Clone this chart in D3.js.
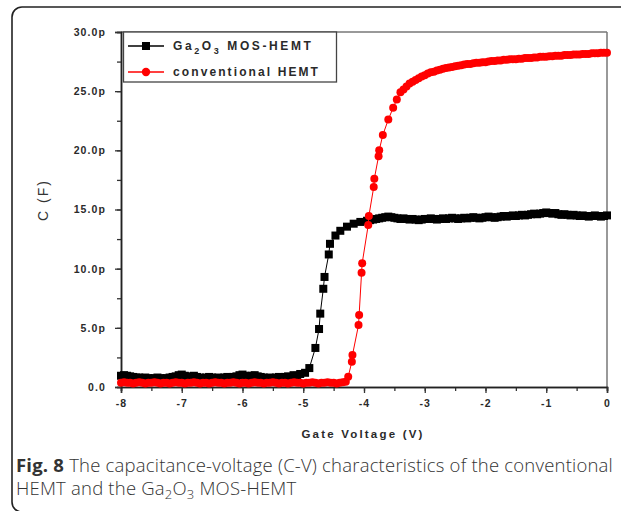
<!DOCTYPE html>
<html><head><meta charset="utf-8">
<script src="https://cdn.jsdelivr.net/npm/d3@7"></script>
<style>body{margin:0;background:#fff}</style>
</head><body><svg id="c" width="621" height="511"></svg>
<script>
// ---------- data ----------
const xTicks = [-8,-7,-6,-5,-4,-3,-2,-1,0];
const xTickLabels = ["-8","-7","-6","-5","-4","-3","-2","-1","0"];
const yTicks = [0,5,10,15,20,25,30];
const yTickLabels = ["0.0","5.0p","10.0p","15.0p","20.0p","25.0p","30.0p"];
const seriesNames = ["Ga2O3 MOS-HEMT","conventional HEMT"];

// Ga2O3 MOS-HEMT : gate voltage (V), capacitance (pF)
const gaV = [-8.00,-7.95,-7.90,-7.85,-7.80,-7.75,-7.70,-7.65,-7.60,-7.55,-7.50,-7.45,-7.40,-7.35,-7.30,-7.25,-7.20,-7.15,-7.10,-7.05,
 -7.00,-6.95,-6.90,-6.85,-6.80,-6.75,-6.70,-6.65,-6.60,-6.55,-6.50,-6.45,-6.40,-6.35,-6.30,-6.25,-6.20,-6.15,-6.10,-6.05,
 -6.00,-5.95,-5.90,-5.85,-5.80,-5.75,-5.70,-5.65,-5.60,-5.55,-5.50,-5.45,-5.40,-5.35,-5.30,-5.25,-5.20,
 -5.16,-5.10,-5.05,-4.97,-4.90,-4.80,-4.74,-4.72,-4.67,-4.65,-4.58,-4.56,-4.47,-4.39,-4.28,-4.17,-4.06,
 -3.95,-3.90,-3.85,-3.80,-3.75,-3.70,-3.65,-3.60,-3.55,-3.50,-3.45,-3.40,-3.35,-3.30,-3.25,-3.20,-3.15,-3.10,-3.05,
 -3.00,-2.95,-2.90,-2.85,-2.80,-2.75,-2.70,-2.65,-2.60,-2.55,-2.50,-2.45,-2.40,-2.35,-2.30,-2.25,-2.20,-2.15,-2.10,-2.05,
 -2.00,-1.95,-1.90,-1.85,-1.80,-1.75,-1.70,-1.65,-1.60,-1.55,-1.50,-1.45,-1.40,-1.35,-1.30,-1.25,-1.20,-1.15,-1.10,-1.05,
 -1.00,-0.95,-0.90,-0.85,-0.80,-0.75,-0.70,-0.65,-0.60,-0.55,-0.50,-0.45,-0.40,-0.35,-0.30,-0.25,-0.20,-0.15,-0.10,-0.05,0.00];
const gaC = [0.95,1.00,0.95,0.90,0.85,0.80,0.80,0.75,0.80,0.75,0.70,0.75,0.80,0.75,0.70,0.75,0.80,0.85,0.90,1.00,
 1.05,0.95,0.85,0.90,0.95,0.85,0.80,0.75,0.80,0.85,0.80,0.75,0.80,0.75,0.80,0.85,0.80,0.85,0.90,1.00,
 1.05,0.95,0.90,0.95,1.00,0.90,0.85,0.80,0.75,0.80,0.75,0.80,0.85,0.80,0.85,0.90,0.85,
 1.00,0.95,1.10,1.20,1.60,3.30,4.90,6.20,8.30,9.30,11.2,12.1,12.8,13.2,13.55,13.8,13.95,
 14.05,14.10,14.15,14.20,14.25,14.30,14.35,14.40,14.35,14.30,14.25,14.20,14.25,14.20,14.15,14.20,14.15,14.10,14.15,
 14.20,14.20,14.25,14.20,14.15,14.20,14.25,14.20,14.25,14.30,14.25,14.20,14.25,14.30,14.25,14.30,14.35,14.30,14.25,14.30,
 14.35,14.40,14.35,14.30,14.35,14.40,14.45,14.40,14.45,14.50,14.45,14.50,14.55,14.50,14.55,14.60,14.65,14.60,14.65,14.70,
 14.75,14.70,14.65,14.70,14.60,14.55,14.60,14.55,14.50,14.55,14.50,14.45,14.50,14.45,14.40,14.45,14.50,14.45,14.40,14.45,14.50];

// conventional HEMT : gate voltage (V), capacitance (pF)
const convV = [-8.00,-7.95,-7.90,-7.85,-7.80,-7.75,-7.70,-7.65,-7.60,-7.55,-7.50,-7.45,-7.40,-7.35,-7.30,-7.25,-7.20,-7.15,-7.10,-7.05,
 -7.00,-6.95,-6.90,-6.85,-6.80,-6.75,-6.70,-6.65,-6.60,-6.55,-6.50,-6.45,-6.40,-6.35,-6.30,-6.25,-6.20,-6.15,-6.10,-6.05,
 -6.00,-5.95,-5.90,-5.85,-5.80,-5.75,-5.70,-5.65,-5.60,-5.55,-5.50,-5.45,-5.40,-5.35,-5.30,-5.25,-5.20,-5.15,-5.10,-5.05,
 -5.00,-4.95,-4.90,-4.85,-4.80,-4.75,-4.70,-4.65,-4.60,-4.55,-4.50,-4.45,-4.40,-4.35,-4.30,
 -4.26,-4.20,-4.19,-4.09,-4.08,-4.04,-4.03,-3.93,-3.92,-3.84,-3.83,-3.76,-3.75,-3.69,-3.60,-3.52,-3.46,-3.40,
 -3.35,-3.30,-3.25,-3.20,-3.15,-3.10,-3.05,-3.00,-2.95,-2.90,-2.85,-2.80,-2.75,-2.70,-2.65,-2.60,-2.55,-2.50,-2.45,-2.40,
 -2.35,-2.30,-2.25,-2.20,-2.15,-2.10,-2.05,-2.00,-1.95,-1.90,-1.85,-1.80,-1.75,-1.70,-1.65,-1.60,-1.55,-1.50,-1.45,-1.40,
 -1.35,-1.30,-1.25,-1.20,-1.15,-1.10,-1.05,-1.00,-0.95,-0.90,-0.85,-0.80,-0.75,-0.70,-0.65,-0.60,-0.55,-0.50,-0.45,-0.40,
 -0.35,-0.30,-0.25,-0.20,-0.15,-0.10,-0.05,0.00];
const convC = [0.35,0.40,0.35,0.35,0.30,0.35,0.40,0.35,0.30,0.35,0.35,0.40,0.35,0.30,0.35,0.35,0.30,0.35,0.40,0.35,
 0.35,0.30,0.35,0.35,0.40,0.35,0.30,0.35,0.35,0.30,0.35,0.40,0.35,0.35,0.30,0.35,0.35,0.40,0.35,0.30,
 0.35,0.35,0.30,0.35,0.40,0.35,0.35,0.30,0.35,0.35,0.40,0.35,0.30,0.35,0.35,0.30,0.35,0.40,0.35,0.35,
 0.30,0.35,0.35,0.40,0.35,0.30,0.35,0.35,0.40,0.35,0.35,0.30,0.35,0.40,0.45,
 0.87,2.14,2.70,5.24,6.09,9.66,10.46,13.7,14.45,16.9,17.6,19.5,20.0,21.3,22.6,23.6,24.3,24.9,
 25.15,25.40,25.65,25.80,25.95,26.10,26.25,26.35,26.50,26.60,26.65,26.75,26.80,26.90,26.95,27.00,27.05,27.10,27.15,27.20,
 27.25,27.30,27.30,27.35,27.40,27.40,27.45,27.45,27.50,27.55,27.55,27.60,27.60,27.65,27.65,27.70,27.70,27.70,27.75,27.75,
 27.80,27.80,27.80,27.85,27.85,27.90,27.90,27.90,27.95,27.95,28.00,28.00,28.00,28.05,28.05,28.05,28.10,28.10,28.10,28.15,
 28.15,28.15,28.20,28.20,28.20,28.25,28.25,28.25];

// ---------- drawing ----------
const svg = d3.select("#c");
const x = d3.scaleLinear().domain([-8,0]).range([121,607]);
const y = d3.scaleLinear().domain([0,30]).range([387,32]);
const axisFont = "'Liberation Sans', Arial, sans-serif";

// outer figure frame
svg.append("path")
  .attr("d","M630 7 H22 A10 10 0 0 0 12 17 V502 A10 10 0 0 0 22 512 H630")
  .attr("fill","none").attr("stroke","#222").attr("stroke-width",1.6);

// plot box (top & right borders)
svg.append("line").attr("x1",x(-8)).attr("x2",x(0)).attr("y1",y(30)).attr("y2",y(30))
  .attr("stroke","#777").attr("stroke-width",1.5);
svg.append("line").attr("x1",x(0)).attr("x2",x(0)).attr("y1",y(30)).attr("y2",y(0))
  .attr("stroke","#777").attr("stroke-width",1.5);

// axes
const xMinor = d3.range(-8,0.01,0.5);
const yMinor = d3.range(0,30.01,2.5);
const gx = svg.append("g").attr("transform",`translate(0,${y(0)})`)
  .call(d3.axisBottom(x).tickValues(xMinor).tickSize(4).tickFormat(""));
const gx2 = svg.append("g").attr("transform",`translate(0,${y(0)})`)
  .call(d3.axisBottom(x).tickValues(xTicks).tickSize(6).tickPadding(7)
    .tickFormat((d,i)=>xTickLabels[i]));
const gy = svg.append("g").attr("transform",`translate(${x(-8)},0)`)
  .call(d3.axisLeft(y).tickValues(yMinor).tickSize(4).tickFormat(""));
const gy2 = svg.append("g").attr("transform",`translate(${x(-8)},0)`)
  .call(d3.axisLeft(y).tickValues(yTicks).tickSize(6).tickPadding(9)
    .tickFormat((d,i)=>yTickLabels[i]));
[gx,gx2,gy,gy2].forEach(g=>{
  g.selectAll("path.domain").attr("stroke","#222").attr("stroke-width",1.5);
  g.selectAll(".tick line").attr("stroke","#333").attr("stroke-width",1.3);
});
[gx2,gy2].forEach(g=>{
  g.selectAll(".tick text").attr("font-family",axisFont).attr("font-weight","bold")
   .attr("font-size","10.5px").attr("fill","#2a2a2a").style("letter-spacing","1.1px");
});
gx2.selectAll(".tick text").attr("dy","0.71em");

// series
const ga = gaV.map((v,i)=>({v, c:gaC[i]}));
const conv = convV.map((v,i)=>({v, c:convC[i]}));
const line = d3.line().x(d=>x(d.v)).y(d=>y(d.c));

svg.append("path").datum(ga).attr("d",line).attr("fill","none")
  .attr("stroke","#000").attr("stroke-width",1);
svg.append("g").selectAll("rect").data(ga).join("rect")
  .attr("x",d=>x(d.v)-4).attr("y",d=>y(d.c)-4).attr("width",8).attr("height",8)
  .attr("fill","#000");

svg.append("path").datum(conv).attr("d",line).attr("fill","none")
  .attr("stroke","#f00").attr("stroke-width",1);
svg.append("g").selectAll("circle").data(conv).join("circle")
  .attr("cx",d=>x(d.v)).attr("cy",d=>y(d.c)).attr("r",4)
  .attr("fill","#f00");

// legend
const lg = svg.append("g");
lg.append("rect").attr("x",123.5).attr("y",32).attr("width",213).attr("height",50)
  .attr("fill","#fff").attr("stroke","#444").attr("stroke-width",1.3);
const rows = [{y:46, color:"#000", shape:"rect"},{y:72, color:"#f00", shape:"circle"}];
rows.forEach((r,i)=>{
  lg.append("line").attr("x1",128).attr("x2",164).attr("y1",r.y).attr("y2",r.y)
    .attr("stroke",r.color).attr("stroke-width",1.3);
  if(r.shape==="rect") lg.append("rect").attr("x",146-4).attr("y",r.y-4).attr("width",8).attr("height",8).attr("fill",r.color);
  else lg.append("circle").attr("cx",146).attr("cy",r.y).attr("r",4.2).attr("fill",r.color);
});
const lt1 = lg.append("text").attr("x",173).attr("y",50).attr("font-family",axisFont)
  .attr("font-weight","bold").attr("font-size","12px").attr("fill","#2a2a2a").style("letter-spacing","2.6px");
lt1.append("tspan").text("Ga");
lt1.append("tspan").attr("dy",4).attr("font-size","9px").text("2");
lt1.append("tspan").attr("dy",-4).text("O");
lt1.append("tspan").attr("dy",4).attr("font-size","9px").text("3");
lt1.append("tspan").attr("dy",-4).text(" MOS-HEMT");
lg.append("text").attr("x",173).attr("y",76).attr("font-family",axisFont)
  .attr("font-weight","bold").attr("font-size","12px").attr("fill","#2a2a2a").style("letter-spacing","2.1px")
  .text("conventional HEMT");

// axis titles
svg.append("text").attr("transform","translate(48,200) rotate(-90)").attr("text-anchor","middle")
  .attr("font-family",axisFont).attr("font-size","14px").attr("fill","#333")
  .style("letter-spacing","2px").text("C (F)");
svg.append("text").attr("x",363).attr("y",438).attr("text-anchor","middle")
  .attr("font-family",axisFont).attr("font-weight","bold").attr("font-size","11.5px").attr("fill","#2a2a2a")
  .style("letter-spacing","2.2px").text("Gate Voltage (V)");

// caption
const capFont = "'Open Sans', sans-serif";
const c1 = svg.append("text").attr("x",16).attr("y",472).attr("font-family",capFont)
  .attr("font-size","18.5px").attr("fill","#333");
c1.append("tspan").attr("font-weight","bold").text("Fig. 8");
c1.append("tspan").attr("font-weight","300").text(" The capacitance-voltage (C-V) characteristics of the conventional");
const w1 = c1.node().getComputedTextLength();
const n1 = "Fig. 8 The capacitance-voltage (C-V) characteristics of the conventional".length;
const ls = (613 - 16 - w1)/n1;
c1.style("letter-spacing", ls+"px");
const c2 = svg.append("text").attr("x",16).attr("y",495).attr("font-family",capFont)
  .attr("font-size","18.5px").attr("font-weight","300").attr("fill","#333").style("letter-spacing", ls+"px");
c2.append("tspan").text("HEMT and the Ga");
c2.append("tspan").attr("dy",4).attr("font-size","13px").text("2");
c2.append("tspan").attr("dy",-4).text("O");
c2.append("tspan").attr("dy",4).attr("font-size","13px").text("3");
c2.append("tspan").attr("dy",-4).text(" MOS-HEMT");
</script></body></html>
